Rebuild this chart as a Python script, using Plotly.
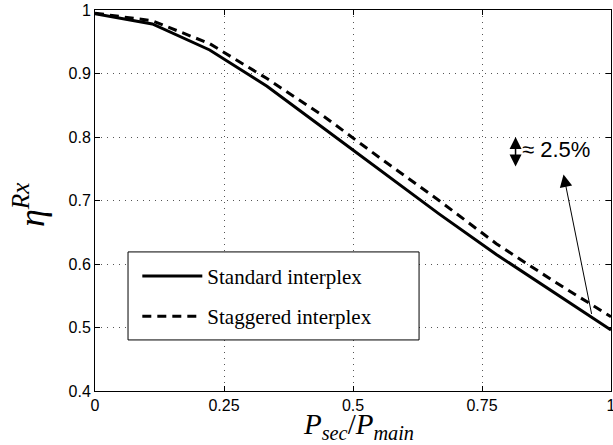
import plotly.graph_objects as go

# Data
x_vals = [0, 1/9, 2/9, 3/9, 4/9, 5/9, 6/9, 7/9, 8/9, 1.0]
standard = [0.994, 0.978, 0.937, 0.880, 0.813, 0.746, 0.679, 0.615, 0.555, 0.496]
staggered = [0.995, 0.983, 0.947, 0.892, 0.832, 0.765, 0.700, 0.632, 0.573, 0.517]
names = ["Standard interplex", "Staggered interplex"]

x_ticks = [0, 0.25, 0.5, 0.75, 1]
x_ticktext = ["0", "0.25", "0.5", "0.75", "1"]
y_ticks = [0.4, 0.5, 0.6, 0.7, 0.8, 0.9, 1.0]
y_ticktext = ["0.4", "0.5", "0.6", "0.7", "0.8", "0.9", "1"]
x_title = "<i>P</i><sub><i>sec</i></sub>/<i>P</i><sub><i>main</i></sub>"
y_title = "<i>η</i><sup><i>Rx</i></sup>"

SANS = "Liberation Sans, Arial, sans-serif"
SERIF = "Liberation Serif, Times New Roman, serif"

fig = go.Figure()
fig.add_trace(go.Scatter(x=x_vals, y=standard, mode="lines", name=names[0],
                         legendgroup="a",
                         line=dict(color="black", width=3)))
fig.add_trace(go.Scatter(x=x_vals, y=staggered, mode="lines", name=names[1],
                         legendgroup="b",
                         line=dict(color="black", width=3, dash="9px,6px")))

axis_common = dict(
    showline=True, linecolor="black", linewidth=1, mirror="ticks",
    ticks="inside", ticklen=5, tickcolor="black", tickwidth=1,
    showgrid=True, gridcolor="#555", gridwidth=1, griddash="1px,5px",
    zeroline=False, tickfont=dict(family=SANS, size=16, color="black"),
    ticklabeloverflow="allow", automargin=False,
)

fig.update_xaxes(range=[0, 1], tickvals=x_ticks, ticktext=x_ticktext, **axis_common)
fig.update_yaxes(range=[0.4, 1.0], tickvals=y_ticks, ticktext=y_ticktext, **axis_common)

# axis titles
fig.add_annotation(text=x_title, xref="paper", yref="paper", x=0.511, y=0,
                   xanchor="center", yanchor="top", yshift=-15, showarrow=False,
                   font=dict(family=SERIF, size=29, color="black"))
fig.add_annotation(text=y_title, xref="paper", yref="paper", x=-0.128, y=0.488,
                   xanchor="center", yanchor="middle", textangle=-90, showarrow=False,
                   font=dict(family=SERIF, size=36, color="black"))

# legend box
fig.add_shape(type="rect", xref="paper", yref="paper",
              x0=0.064, x1=0.628, y0=0.134, y1=0.365,
              fillcolor="white", line=dict(color="black", width=1), layer="above")

# annotations
fig.add_annotation(x=0.815, y=0.800, ax=0.815, ay=0.751, xref="x", yref="y",
                   axref="x", ayref="y", showarrow=True, text="",
                   arrowhead=2, startarrowhead=2, arrowside="end+start",
                   arrowsize=1.6, startarrowsize=1.6, arrowwidth=1.5, arrowcolor="black")
fig.add_annotation(x=0.824, y=0.781, xref="x", yref="y", text="≈ 2.5%",
                   showarrow=False, xanchor="left", yanchor="middle",
                   font=dict(family=SANS, size=22, color="black"))
fig.add_annotation(x=0.908, y=0.741, ax=0.963, ay=0.519, xref="x", yref="y",
                   axref="x", ayref="y", showarrow=True, text="",
                   arrowhead=2, arrowsize=2.5, arrowwidth=1, arrowcolor="black")

fig.update_layout(
    width=613, height=445,
    margin=dict(l=95, r=2, t=10, b=54),
    paper_bgcolor="white", plot_bgcolor="white",
    showlegend=True,
    legend=dict(x=0.082, y=0.355, xanchor="left", yanchor="top",
                bgcolor="rgba(0,0,0,0)", borderwidth=0,
                font=dict(family=SERIF, size=21, color="black"),
                itemwidth=60, traceorder="grouped", tracegroupgap=10),
)

fig.write_html("out.html", config={"displayModeBar": False},
               post_script="document.body.style.margin='0';document.body.style.overflow='hidden';")
